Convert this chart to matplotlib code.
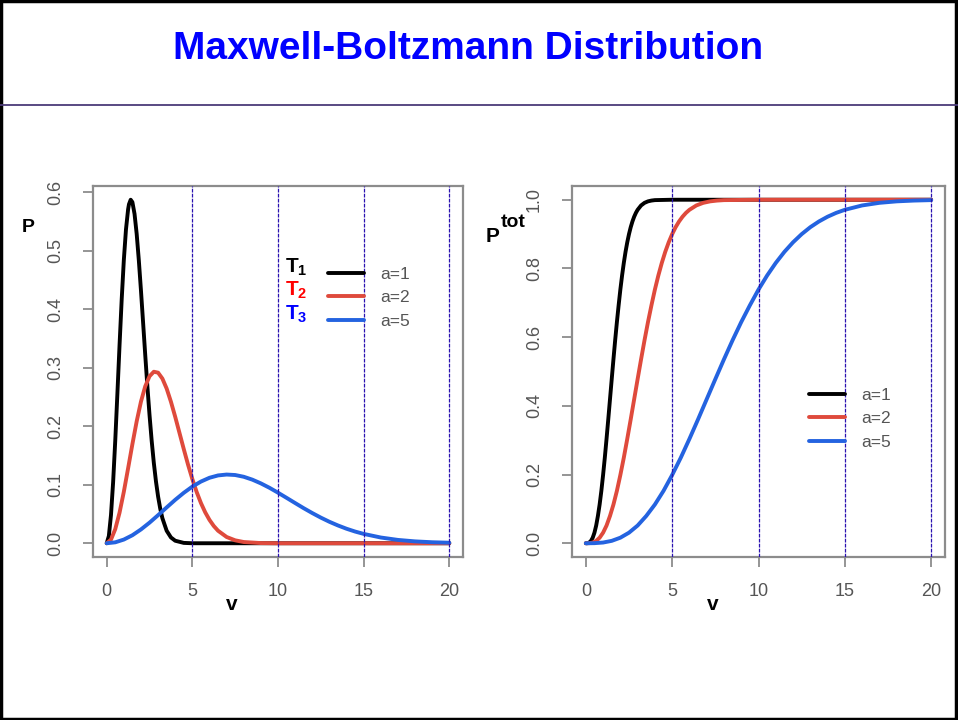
import matplotlib
matplotlib.use("Agg")
import matplotlib.pyplot as plt
from matplotlib.patches import Rectangle
from matplotlib.lines import Line2D

plt.rcParams["font.family"] = ["Liberation Sans", "DejaVu Sans"]
plt.rcParams["mathtext.fontset"] = "custom"
plt.rcParams["mathtext.rm"] = "Liberation Sans"
plt.rcParams["mathtext.bf"] = "Liberation Sans:bold"

# ---- data ----
title = "Maxwell-Boltzmann Distribution"
labels = ["a=1", "a=2", "a=5"]
temps = [r"$\mathbf{T_1}$", r"$\mathbf{T_2}$", r"$\mathbf{T_3}$"]
temp_colors = ["black", "#ff0000", "#0000ff"]
guides = [5, 10, 15, 20]

# density P(v)
v_a1 = [0, 0.125, 0.25, 0.375, 0.5, 0.625, 0.75, 0.875, 1.0, 1.125, 1.25, 1.3,
        1.4, 1.5, 1.625, 1.75, 1.875, 2.0, 2.125, 2.25, 2.375, 2.5, 2.625,
        2.75, 2.875, 3.0, 3.125, 3.25, 3.5, 3.75, 4.0, 4.5, 5, 6, 8, 10, 15, 20]
p_a1 = [0, 0.0124, 0.0483, 0.1046, 0.176, 0.2564, 0.3388, 0.4166, 0.484,
        0.5363, 0.5707, 0.5793, 0.587, 0.5829, 0.5628, 0.5286, 0.4836, 0.4319,
        0.3769, 0.3215, 0.2681, 0.2191, 0.1753, 0.1375, 0.1058, 0.0798, 0.0591,
        0.0429, 0.0214, 0.0099, 0.0043, 0.0006, 0, 0, 0, 0, 0, 0]
v_a2 = [0, 0.25, 0.5, 0.75, 1.0, 1.25, 1.5, 1.75, 2.0, 2.25, 2.5, 2.75, 3.0,
        3.25, 3.5, 3.75, 4.0, 4.25, 4.5, 4.75, 5.0, 5.25, 5.5, 5.75, 6.0, 6.25,
        6.5, 7.0, 7.5, 8.0, 9.0, 10, 15, 20]
p_a2 = [0, 0.0062, 0.0242, 0.0523, 0.088, 0.1282, 0.1694, 0.2083, 0.242,
        0.2682, 0.2854, 0.2931, 0.2915, 0.2814, 0.2643, 0.2418, 0.216, 0.1884,
        0.1608, 0.1341, 0.1096, 0.0877, 0.0688, 0.0529, 0.0399, 0.0295, 0.0214,
        0.0107, 0.005, 0.0021, 0.0003, 0, 0, 0]
v_a5 = [0, 0.5, 1, 1.5, 2, 2.5, 3, 3.5, 4, 4.5, 5, 5.5, 6, 6.5, 7, 7.5, 8,
        8.5, 9, 9.5, 10, 10.5, 11, 11.5, 12, 12.5, 13, 13.5, 14, 14.5, 15, 16,
        17, 18, 19, 20]
p_a5 = [0, 0.0016, 0.0063, 0.0137, 0.0236, 0.0352, 0.048, 0.0612, 0.0742,
        0.0862, 0.0968, 0.1054, 0.1119, 0.1159, 0.1174, 0.1166, 0.1136, 0.1087,
        0.1023, 0.0948, 0.0864, 0.0776, 0.0687, 0.0599, 0.0516, 0.0438, 0.0367,
        0.0304, 0.0248, 0.02, 0.016, 0.0098, 0.0057, 0.0032, 0.0017, 0.0009]

# cumulative P_tot(v)
vc_a1 = [0, 0.1, 0.2, 0.3, 0.4, 0.5, 0.6, 0.7, 0.8, 0.9, 1.0, 1.1, 1.2, 1.3,
         1.4, 1.5, 1.6, 1.7, 1.8, 1.9, 2.0, 2.1, 2.2, 2.3, 2.4, 2.5, 2.6, 2.7,
         2.8, 2.9, 3.0, 3.2, 3.4, 3.6, 3.8, 4.0, 5, 20]
c_a1 = [0, 0.0003, 0.0021, 0.007, 0.0162, 0.0308, 0.0516, 0.0795, 0.1128,
        0.1526, 0.1987, 0.2491, 0.3038, 0.3608, 0.4193, 0.4778, 0.5355, 0.5912,
        0.6439, 0.6926, 0.7385, 0.7795, 0.8161, 0.8483, 0.8761, 0.8999, 0.9201,
        0.9368, 0.9506, 0.9618, 0.9707, 0.9834, 0.991, 0.9953, 0.9976, 0.9989,
        1.0, 1.0]
vc_a2 = [0, 0.2, 0.4, 0.6, 0.8, 1.0, 1.2, 1.4, 1.6, 1.8, 2.0, 2.2, 2.4, 2.6,
         2.8, 3.0, 3.2, 3.4, 3.6, 3.8, 4.0, 4.2, 4.4, 4.6, 4.8, 5.0, 5.2, 5.4,
         5.6, 5.8, 6.0, 6.4, 6.8, 7.2, 7.6, 8.0, 10, 20]
c_a2 = [0, 0.0003, 0.0021, 0.007, 0.0162, 0.0308, 0.0516, 0.0795, 0.1128,
        0.1526, 0.1987, 0.2491, 0.3038, 0.3608, 0.4193, 0.4778, 0.5355, 0.5912,
        0.6439, 0.6926, 0.7385, 0.7795, 0.8161, 0.8483, 0.8761, 0.8999, 0.9201,
        0.9368, 0.9506, 0.9618, 0.9707, 0.9834, 0.991, 0.9953, 0.9976, 0.9989,
        1.0, 1.0]
vc_a5 = [0, 0.5, 1, 1.5, 2, 2.5, 3, 3.5, 4, 4.5, 5, 5.5, 6, 6.5, 7, 7.5, 8,
         8.5, 9, 9.5, 10, 10.5, 11, 11.5, 12, 12.5, 13, 13.5, 14, 14.5, 15, 16,
         17, 18, 19, 20]
c_a5 = [0, 0.0003, 0.0021, 0.007, 0.0162, 0.0308, 0.0516, 0.0795, 0.1128,
        0.1526, 0.1987, 0.2491, 0.3038, 0.3608, 0.4193, 0.4778, 0.5355, 0.5912,
        0.6439, 0.6926, 0.7385, 0.7795, 0.8161, 0.8483, 0.8761, 0.8999, 0.9201,
        0.9368, 0.9506, 0.9618, 0.9707, 0.9834, 0.991, 0.9953, 0.9976, 0.9989]

colors = ["black", "#df4a3c", "#2463e0"]
frame_c = "#8c8c8c"
tick_c = "#555555"

W, H = 958, 720
fig = plt.figure(figsize=(W / 100, H / 100), dpi=100)


def fx(px):
    return px / W


def fy(py):
    return 1 - py / H


# slide border, title and rule
fig.patches.append(Rectangle((0.001, 0.001), 0.997, 0.997, transform=fig.transFigure,
                             fill=False, ec="black", lw=2.5))
fig.add_artist(Line2D([0, 1], [fy(105), fy(105)], color="#4b3a78", lw=1.3))
fig.text(fx(468), fy(49), title, color="#0000ff", fontsize=28, fontweight="bold",
         ha="center", va="center")


def style(ax, yt, yl):
    ax.set_xlim(-0.8, 20.8)
    ax.set_xticks([0, 5, 10, 15, 20])
    ax.set_yticks(yt)
    ax.set_yticklabels(yl, rotation=90, va="center")
    for s in ax.spines.values():
        s.set_color(frame_c)
        s.set_linewidth(1.6)
    ax.tick_params(colors=frame_c, labelcolor=tick_c, labelsize=13, length=7,
                   width=1.3)
    ax.tick_params(axis="x", pad=12)
    ax.tick_params(axis="y", pad=14)
    for g in guides:
        ax.axvline(g, color="#2a12b0", lw=0.9, ls=(0, (3, 1)), zorder=5)


ax1 = fig.add_axes([fx(93), fy(557), fx(463) - fx(93), (557 - 186) / H])
ax2 = fig.add_axes([fx(572), fy(557), fx(945) - fx(572), (557 - 186) / H])

for v, p, c, lab in zip([v_a1, v_a2, v_a5], [p_a1, p_a2, p_a5], colors, labels):
    ax1.plot(v, p, color=c, lw=2.8, label=lab, solid_capstyle="round",
             solid_joinstyle="round")
for v, p, c, lab in zip([vc_a1, vc_a2, vc_a5], [c_a1, c_a2, c_a5], colors, labels):
    ax2.plot(v, p, color=c, lw=2.8, label=lab, solid_capstyle="round",
             solid_joinstyle="round")

ax1.set_ylim(-0.0235, 0.6105)
style(ax1, [0, 0.1, 0.2, 0.3, 0.4, 0.5, 0.6],
      ["0.0", "0.1", "0.2", "0.3", "0.4", "0.5", "0.6"])
ax2.set_ylim(-0.04, 1.04)
style(ax2, [0, 0.2, 0.4, 0.6, 0.8, 1.0], ["0.0", "0.2", "0.4", "0.6", "0.8", "1.0"])

leg_kw = dict(frameon=False, fontsize=12.5, labelcolor=tick_c, handlelength=2.1,
              handletextpad=0.9, labelspacing=0.47, borderpad=0, borderaxespad=0,
              loc="upper left")
ax1.legend(bbox_to_anchor=(fx(328), fy(267)), bbox_transform=fig.transFigure, **leg_kw)
ax2.legend(bbox_to_anchor=(fx(809), fy(388)), bbox_transform=fig.transFigure, **leg_kw)

for t, c, yb in zip(temps, temp_colors, [273, 296, 320]):
    fig.text(fx(285), fy(yb), t, color=c, fontsize=15, ha="left", va="baseline")

# axis labels
fig.text(fx(28), fy(228), "P", fontsize=14, fontweight="bold", ha="center", va="center")
fig.text(fx(232), fy(605), "v", fontsize=15, fontweight="bold", ha="center", va="center")
fig.text(fx(713), fy(605), "v", fontsize=15, fontweight="bold", ha="center", va="center")
fig.text(fx(486), fy(242), "P", fontsize=15, fontweight="bold", ha="left", va="baseline")
fig.text(fx(501), fy(227), "tot", fontsize=14, fontweight="bold", ha="left",
         va="baseline")

fig.savefig("out.png", dpi=100)
